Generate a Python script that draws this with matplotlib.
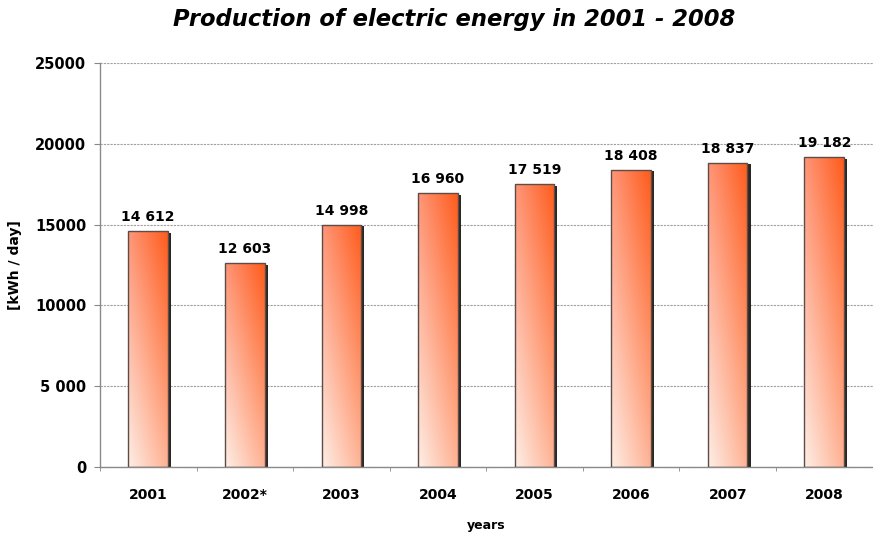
"""Bar chart of daily electric energy production, 2001 - 2008."""
import matplotlib

matplotlib.use("Agg")
import matplotlib.patheffects as pe
import matplotlib.pyplot as plt
import numpy as np

years = ["2001", "2002*", "2003", "2004", "2005", "2006", "2007", "2008"]
production = [14612, 12603, 14998, 16960, 17519, 18408, 18837, 19182]
y_ticks = [0, 5000, 10000, 15000, 20000, 25000]
y_tick_labels = ["0", "5 000", "10000", "15000", "20000", "25000"]


def bar_gradient(n=64):
    """RGB image: pale at bottom-left, strong orange at top-right."""
    top_left = np.array([255, 150, 120]) / 255
    top_right = np.array([255, 92, 28]) / 255
    bot_left = np.array([253, 238, 230]) / 255
    bot_right = np.array([255, 178, 148]) / 255
    u = np.linspace(0, 1, n)[None, :, None]   # left -> right
    v = np.linspace(0, 1, n)[:, None, None]   # bottom -> top
    bottom = bot_left * (1 - u) + bot_right * u
    top = top_left * (1 - u) + top_right * u
    return bottom * (1 - v) + top * v


plt.rcParams["font.family"] = ["DejaVu Sans"]
plt.rcParams["font.weight"] = "bold"

fig = plt.figure(figsize=(8.73, 5.35), dpi=100)
ax = fig.add_axes([0.1145, 0.127, 0.885, 0.755])

x = np.arange(len(years))
width = 0.41

# shadow only
shadows = ax.bar(x, production, width, color="none", edgecolor="none", zorder=2)
for s in shadows:
    s.set_path_effects([pe.SimplePatchShadow(offset=(2.2, -1.2),
                                             shadow_rgbFace="#1e1a18", alpha=0.95)])

grad = bar_gradient()
for xi, h in zip(x, production):
    img = ax.imshow(grad, origin="lower", aspect="auto", zorder=2.5,
                    extent=(xi - width / 2, xi + width / 2, 0, h),
                    interpolation="bilinear")
    clip = plt.Rectangle((xi - width / 2, 0), width, h, transform=ax.transData)
    img.set_clip_path(clip)

bars = ax.bar(x, production, width, facecolor="none", edgecolor="#5e4c46",
              linewidth=1.0, zorder=3)

for bar, v in zip(bars, production):
    ax.annotate(f"{v:,}".replace(",", " "),
                (bar.get_x() + bar.get_width() / 2, v),
                xytext=(0, 5), textcoords="offset points",
                ha="center", va="bottom", fontsize=10, fontweight="bold")

ax.set_xlim(-0.5, len(years) - 0.5)
ax.set_ylim(0, 25000)

ax.set_yticks(y_ticks)
ax.set_yticklabels(y_tick_labels, fontsize=10.5, fontweight="bold")
ax.set_xticks(x)
ax.set_xticklabels(years, fontsize=10, fontweight="bold")
ax.set_xticks(np.arange(len(years) + 1) - 0.5, minor=True)
ax.tick_params(axis="x", which="major", length=0, pad=15)
ax.tick_params(axis="x", which="minor", length=3, color="#888888", direction="out")
ax.tick_params(axis="y", length=4, color="#888888", direction="out", pad=6)

ax.yaxis.grid(True, linestyle=(0, (2, 1)), color="#a0a0a0", linewidth=0.8, zorder=0)
ax.set_axisbelow(True)

for side in ("top", "right"):
    ax.spines[side].set_visible(False)
for side in ("left", "bottom"):
    ax.spines[side].set_color("#8a8a8a")
    ax.spines[side].set_linewidth(1.0)

ax.set_xlabel("years", fontsize=9, fontweight="bold", labelpad=12)
ax.set_ylabel("[kWh / day]", fontsize=10, fontweight="bold", va="center")
ax.yaxis.set_label_coords(-0.11, 0.5)

fig.suptitle("Production of electric energy in 2001 - 2008", x=0.52, y=0.985,
             fontsize=16.3, fontweight="bold", style="italic", va="top")

fig.savefig("out.png", dpi=100)
